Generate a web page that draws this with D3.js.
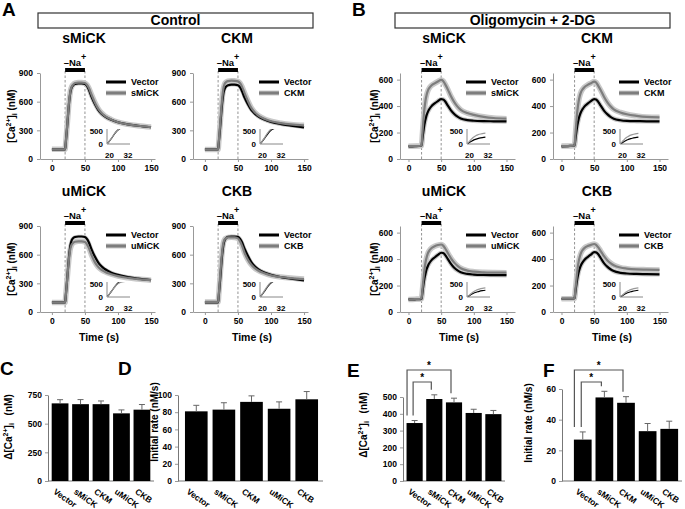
<!DOCTYPE html>
<html><head><meta charset="utf-8">
<script src="https://cdn.jsdelivr.net/npm/d3@7"></script>
<style>
body{margin:0;background:#fff;}
svg{display:block;}
</style></head><body>
<svg id="c" width="685" height="509"></svg>
<script>
// ---------- DATA ----------
const T = [0,10,19,20,21,22,23,24,25,26,27,28,30,32,35,40,45,50,53,56,60,65,70,75,80,90,100,115,130,150];

// Control traces
const ctrlVecSMiCK = [100,100,100,100,170,250,330,420,510,590,650,700,750,770,785,790,790,785,765,725,650,575,515,475,447,410,385,362,348,332];
const ctrlSMiCK    = [102,102,102,102,175,258,342,432,522,602,662,712,758,778,795,800,800,795,777,742,672,592,527,482,452,412,385,362,348,334];
const ctrlVecCKM   = [100,100,100,100,168,245,325,412,498,575,635,685,735,758,772,778,778,772,752,712,642,572,515,478,450,413,388,365,350,330];
const ctrlCKM      = [100,100,100,100,178,268,358,452,542,622,688,738,788,805,815,820,818,812,795,760,690,608,538,492,460,420,395,375,362,353];
const ctrlVecUMiCK = [100,100,100,100,170,250,332,420,508,588,648,700,752,772,785,790,790,785,765,728,655,580,520,478,450,412,388,365,350,334];
const ctrlUMiCK    = [100,100,100,100,172,252,335,418,500,570,625,665,705,722,735,740,740,733,708,668,595,522,472,442,422,395,375,357,345,333];
const ctrlVecCKB   = [100,100,100,100,170,250,330,420,510,590,650,700,752,772,786,790,790,786,768,732,662,588,525,482,452,413,388,365,350,330];
const ctrlCKB      = [105,105,105,105,182,275,370,462,550,625,685,725,760,772,780,782,780,770,742,698,620,548,497,462,437,405,383,366,355,345];

// Oligomycin + 2-DG traces
const oligoVecSMiCK = [95,97,100,102,140,180,215,248,275,298,318,335,360,378,398,420,438,452,450,436,405,368,340,320,306,294,289,286,285,284];
const oligoSMiCK    = [97,98,100,102,170,240,305,360,405,440,468,490,520,538,555,572,586,598,590,566,528,474,430,396,372,347,333,319,310,305];
const oligoVecCKM   = [96,98,100,102,138,176,212,245,272,295,315,332,357,375,396,418,437,452,449,434,403,366,339,319,305,293,288,286,285,284];
const oligoCKM      = [98,98,100,102,165,232,295,350,393,428,455,477,507,525,543,560,573,585,578,555,520,471,430,398,375,352,338,326,318,315];
const oligoVecUMiCK = [95,96,98,100,136,174,210,242,268,290,310,327,352,370,390,412,432,448,446,432,402,364,334,314,300,288,283,280,279,278];
const oligoUMiCK    = [95,97,100,102,150,205,255,300,340,372,398,418,448,465,482,497,506,510,502,482,447,406,373,349,331,313,305,300,298,297];
const oligoVecCKB   = [100,100,102,104,140,178,213,245,272,295,314,330,355,373,393,415,434,452,451,438,408,370,343,323,309,296,291,288,286,285];
const oligoCKB      = [100,100,102,104,152,205,255,300,340,372,398,418,448,466,483,498,507,514,507,490,460,422,392,370,354,336,328,322,320,318];

// Bar charts
const groups = ["Vector","sMiCK","CKM","uMiCK","CKB"];
const cDelta = [677,670,670,590,622];
const cDeltaErr = [32,40,28,30,45];
const dRate = [81,83,92,84,95];
const dRateErr = [7,8,7,8,9];
const eDelta = [345,488,468,405,398];
const eDeltaErr = [15,25,25,22,22];
const fRate = [27,54.5,51,32.5,34];
const fRateErr = [5,4,4,5,5];

// Ticks / domains
const traceXTicks = [0,50,100,150];
const ctrlYTicks = [0,300,600,900];
const oligoYTicks = [0,200,400,600];
const ctrlXDomain = [-18,156];
const oligoXDomain = [-13,163];
const ctrlYDomain = [0,900];
const oligoYDomain = [0,650];
const insetXTicks = [20,32];
const insetYTicks = [0,500];
const cTicks = [0,250,500,750];
const dTicks = [0,20,40,60,80,100];
const eTicks = [0,100,200,300,400,500];
const fTicks = [0,20,40,60];
const sigPairs = [["Vector","CKM"],["Vector","sMiCK"]];

// ---------- DRAWING ----------
const FONT = '"Liberation Sans", Arial, Helvetica, sans-serif';
const svg = d3.select("#c").attr("font-family", FONT);

function styleAxis(a, fs) {
  a.attr("font-family", FONT);
  a.select(".domain").attr("stroke", "#999").attr("stroke-width", 1);
  a.selectAll(".tick line").attr("stroke", "#999");
  a.selectAll(".tick text").attr("font-size", fs).attr("font-weight", "bold").attr("fill", "#000");
}

function caLabel(t, prefix, gap) {
  t.append("tspan").text(prefix + "[Ca");
  t.append("tspan").attr("dy", -4).attr("font-size", "0.7em").text("2+");
  t.append("tspan").attr("dy", 4).text("]");
  t.append("tspan").attr("dy", 2).attr("font-size", "0.7em").text("i");
  t.append("tspan").attr("dy", -2).attr("dx", gap).text(" (nM)");
}

function frame(x, y, w, h, label) {
  svg.append("rect").attr("x", x).attr("y", y).attr("width", w).attr("height", h)
    .attr("fill", "none").attr("stroke", "#333").attr("stroke-width", 1.2);
  svg.append("text").attr("x", x + w / 2).attr("y", y + h - 3).attr("text-anchor", "middle")
    .attr("font-size", 14).attr("font-weight", "bold").text(label);
}
frame(38, 13, 275, 15, "Control");
frame(395, 13, 275, 15, "Oligomycin + 2-DG");

const letters = [["A", 2, 16], ["B", 352, 16], ["C", 0, 375], ["D", 118, 375], ["E", 347, 377], ["F", 543, 377]];
letters.forEach(([l, x, y]) => svg.append("text").attr("x", x).attr("y", y)
  .attr("font-size", 19).attr("font-weight", "bold").text(l));

const tracePanels = [
  {ax: 40,  base: 159, cond: "ctrl",  name: "sMiCK", vec: ctrlVecSMiCK, ser: ctrlSMiCK, ylab: true,  time: false},
  {ax: 193, base: 159, cond: "ctrl",  name: "CKM",   vec: ctrlVecCKM,   ser: ctrlCKM,   ylab: false, time: false},
  {ax: 40,  base: 312, cond: "ctrl",  name: "uMiCK", vec: ctrlVecUMiCK, ser: ctrlUMiCK, ylab: true,  time: true},
  {ax: 193, base: 312, cond: "ctrl",  name: "CKB",   vec: ctrlVecCKB,   ser: ctrlCKB,   ylab: false, time: true},
  {ax: 400, base: 159, cond: "oligo", name: "sMiCK", vec: oligoVecSMiCK, ser: oligoSMiCK, ylab: true,  time: false},
  {ax: 553, base: 159, cond: "oligo", name: "CKM",   vec: oligoVecCKM,   ser: oligoCKM,   ylab: false, time: false},
  {ax: 400, base: 312, cond: "oligo", name: "uMiCK", vec: oligoVecUMiCK, ser: oligoUMiCK, ylab: true,  time: true},
  {ax: 553, base: 312, cond: "oligo", name: "CKB",   vec: oligoVecCKB,   ser: oligoCKB,   ylab: false, time: true}
];

const GRAY = "#7d7d7d", HALO = "#c9c9c9";
let clipId = 0;

function drawTrace(p) {
  const ctrl = p.cond === "ctrl";
  const x = d3.scaleLinear().domain(ctrl ? ctrlXDomain : oligoXDomain).range([p.ax, p.ax + 115]);
  const y = d3.scaleLinear().domain(ctrl ? ctrlYDomain : oligoYDomain).range([p.base, p.base - 86]);
  const g = svg.append("g");

  [20, 50].forEach(t => g.append("line").attr("x1", x(t)).attr("x2", x(t))
    .attr("y1", p.base - 88).attr("y2", p.base)
    .attr("stroke", "#777").attr("stroke-width", 0.8).attr("stroke-dasharray", "2.5,2"));

  const xa = g.append("g").attr("transform", `translate(0,${p.base})`)
    .call(d3.axisBottom(x).tickValues(traceXTicks).tickSize(3).tickSizeOuter(0).tickPadding(3));
  const ya = g.append("g").attr("transform", `translate(${p.ax},0)`)
    .call(d3.axisLeft(y).tickValues(ctrl ? ctrlYTicks : oligoYTicks).tickSize(3).tickSizeOuter(0).tickPadding(4));
  styleAxis(xa, 8.5); styleAxis(ya, 8.5);

  const line = d3.line().x((d, i) => x(T[i])).y(d => y(d)).curve(d3.curveMonotoneX);
  g.append("path").attr("d", line(p.ser)).attr("fill", "none").attr("stroke", HALO).attr("stroke-width", 5.5);
  g.append("path").attr("d", line(p.vec)).attr("fill", "none").attr("stroke", HALO).attr("stroke-width", ctrl ? 3.5 : 4.5);
  g.append("path").attr("d", line(p.vec)).attr("fill", "none").attr("stroke", "#000").attr("stroke-width", 2.2);
  g.append("path").attr("d", line(p.ser)).attr("fill", "none").attr("stroke", GRAY).attr("stroke-width", 2.2);

  g.append("rect").attr("x", x(20)).attr("y", p.base - 91).attr("width", x(50) - x(20)).attr("height", 4).attr("fill", "#000");
  const na = g.append("text").attr("x", x(35)).attr("y", p.base - 93).attr("text-anchor", "middle")
    .attr("font-size", 9.5).attr("font-weight", "bold");
  na.append("tspan").text("\u2013Na");
  na.append("tspan").attr("dy", -6).attr("font-size", 9).text("+");

  g.append("text").attr("x", p.ax + 44).attr("y", p.base - 116).attr("text-anchor", "middle")
    .attr("font-size", 14).attr("font-weight", "bold").text(p.name);

  const lx = p.ax + 66;
  [[p.base - 77, "Vector", "#000", false], [p.base - 66, p.name, GRAY, true]].forEach(([ly, lab, col, halo]) => {
    if (halo) g.append("line").attr("x1", lx).attr("x2", lx + 20).attr("y1", ly).attr("y2", ly).attr("stroke", HALO).attr("stroke-width", 5);
    g.append("line").attr("x1", lx).attr("x2", lx + 20).attr("y1", ly).attr("y2", ly).attr("stroke", col).attr("stroke-width", 3);
    g.append("text").attr("x", lx + 25).attr("y", ly + 3.3).attr("font-size", 9).attr("font-weight", "bold").text(lab);
  });

  if (p.ylab) {
    const lxp = ctrl ? p.ax - 25 : p.ax - 22;
    const t = g.append("text").attr("transform", `translate(${lxp},${p.base - 43}) rotate(-90)`)
      .attr("text-anchor", "middle").attr("font-size", 10).attr("font-weight", "bold");
    caLabel(t, "", 0);
  }
  if (p.time) {
    g.append("text").attr("x", p.ax + 59).attr("y", p.base + 29).attr("text-anchor", "middle")
      .attr("font-size", 10.5).attr("font-weight", "bold").text("Time (s)");
  }

  // inset
  const ix = d3.scaleLinear().domain([20, 35]).range([p.ax + 67, p.ax + 90]);
  const iy = d3.scaleLinear().domain([0, 600]).range([p.base - 15, p.base - 30]);
  const cid = "clip" + (clipId++);
  g.append("clipPath").attr("id", cid).append("rect")
    .attr("x", ix(20)).attr("y", iy(600)).attr("width", ix(35) - ix(20)).attr("height", iy(0) - iy(600));
  g.append("line").attr("x1", ix(20)).attr("x2", ix(20)).attr("y1", iy(0)).attr("y2", iy(600)).attr("stroke", "#888");
  g.append("line").attr("x1", ix(20)).attr("x2", ix(35)).attr("y1", iy(0)).attr("y2", iy(0)).attr("stroke", "#888");
  const idx = T.map((t, i) => i).filter(i => T[i] >= 20 && T[i] <= 32);
  const i20 = T.indexOf(20);
  const iline = arr => d3.line().x(i => ix(T[i])).y(i => iy(arr[i] - arr[i20])).curve(d3.curveMonotoneX)(idx);
  g.append("path").attr("clip-path", `url(#${cid})`).attr("d", iline(p.vec)).attr("fill", "none").attr("stroke", "#000").attr("stroke-width", 1.2);
  g.append("path").attr("clip-path", `url(#${cid})`).attr("d", iline(p.ser)).attr("fill", "none").attr("stroke", "#999").attr("stroke-width", 1.2);
  insetYTicks.forEach(v => g.append("text").attr("x", ix(20) - 4).attr("y", iy(v) + 2.5).attr("text-anchor", "end")
    .attr("font-size", 8).attr("font-weight", "bold").attr("fill", "#000").text(v));
  insetXTicks.forEach(v => g.append("text").attr("x", ix(v) + 2.5).attr("y", p.base - 1).attr("text-anchor", "middle")
    .attr("font-size", 8).attr("font-weight", "bold").attr("fill", "#000").text(v));
}
tracePanels.forEach(drawTrace);

// ---------- bar charts ----------
const barBase = 481;
const barPanels = [
  {ax: 48,  r0: 48,  r1: 154, top: 395, yDom: [0, 750], ticks: cTicks, vals: cDelta, errs: cDeltaErr, lab: "ca",   labX: 12,  labY: 427, sig: false},
  {ax: 178, r0: 180, r1: 323, top: 395, yDom: [0, 100], ticks: dTicks, vals: dRate,  errs: dRateErr,  lab: "rate", labX: 158, labY: 422, sig: false},
  {ax: 403, r0: 403, r1: 505, top: 397, yDom: [0, 500], ticks: eTicks, vals: eDelta, errs: eDeltaErr, lab: "ca",   labX: 367, labY: 425, sig: true},
  {ax: 562, r0: 570, r1: 682, top: 389, yDom: [0, 60],  ticks: fTicks, vals: fRate,  errs: fRateErr,  lab: "rate", labX: 532, labY: 423, sig: true}
];

function drawBars(p) {
  const x = d3.scaleBand().domain(groups).range([p.r0, p.r1]).paddingInner(0.18).paddingOuter(0.18);
  const y = d3.scaleLinear().domain(p.yDom).range([barBase, p.top]);
  const g = svg.append("g");
  const ya = g.append("g").attr("transform", `translate(${p.ax},0)`)
    .call(d3.axisLeft(y).tickValues(p.ticks).tickSize(3).tickSizeOuter(0).tickPadding(3));
  styleAxis(ya, 8.5);
  ya.select(".domain").attr("stroke", "#777");
  g.append("line").attr("x1", p.ax).attr("x2", p.r1).attr("y1", barBase).attr("y2", barBase).attr("stroke", "#777");

  g.selectAll("rect.bar").data(p.vals).join("rect").attr("class", "bar")
    .attr("x", (d, i) => x(groups[i])).attr("y", d => y(d))
    .attr("width", x.bandwidth()).attr("height", d => barBase - y(d)).attr("fill", "#000");
  p.vals.forEach((v, i) => {
    const cx = x(groups[i]) + x.bandwidth() / 2;
    g.append("line").attr("x1", cx).attr("x2", cx).attr("y1", y(v)).attr("y2", y(v + p.errs[i])).attr("stroke", "#666").attr("stroke-width", 1);
    g.append("line").attr("x1", cx - 3).attr("x2", cx + 3).attr("y1", y(v + p.errs[i])).attr("y2", y(v + p.errs[i])).attr("stroke", "#666").attr("stroke-width", 1);
  });
  groups.forEach(gr => g.append("text")
    .attr("transform", `translate(${x(gr) + 1},${barBase + 12}) rotate(35)`)
    .attr("font-size", 8.5).attr("font-weight", "bold").text(gr));

  const t = g.append("text").attr("transform", `translate(${p.labX},${p.labY}) rotate(-90)`)
    .attr("text-anchor", "middle").attr("font-size", 10).attr("font-weight", "bold");
  if (p.lab === "ca") caLabel(t, "\u0394", 5); else t.text("Initial rate (nM/s)");

  if (p.sig) {
    const idxOf = n => groups.indexOf(n);
    const cen = n => x(n) + x.bandwidth() / 2;
    const endY = n => y(p.vals[idxOf(n)] + p.errs[idxOf(n)]) - 5;
    sigPairs.forEach(([a, b], k) => {
      const topY = barBase - (k === 0 ? 111 : 99);
      const xa1 = k === 0 ? x(a) + 0.5 : cen(a) - 1.5;
      const xb1 = cen(b) - 3;
      g.append("path").attr("d", `M${xa1},${endY(a)}V${topY}H${xb1}V${endY(b)}`)
        .attr("fill", "none").attr("stroke", "#555").attr("stroke-width", 1.2);
      g.append("text").attr("x", (xa1 + xb1) / 2).attr("y", topY - 1.5).attr("text-anchor", "middle")
        .attr("font-size", 10).attr("font-weight", "bold").text("*");
    });
  }
}
barPanels.forEach(drawBars);
</script></body></html>
